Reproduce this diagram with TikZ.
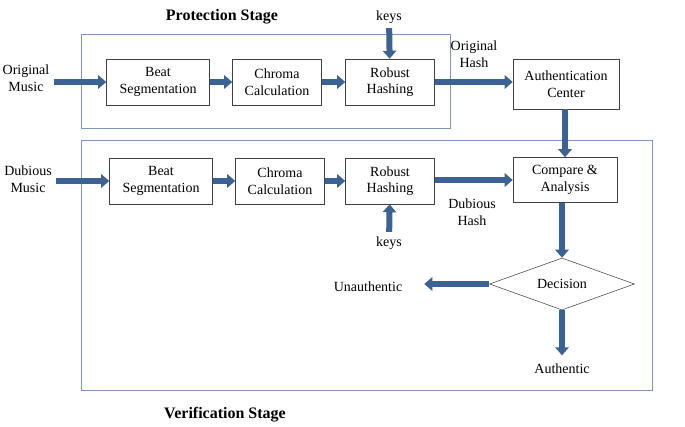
\documentclass[tikz,border=0pt]{standalone}
\usepackage{fontspec}
\setmainfont{Liberation Serif}
\usetikzlibrary{arrows.meta, positioning, shapes.geometric}
\definecolor{flowblue}{RGB}{60,98,148}
\definecolor{stageblue}{RGB}{125,150,190}

\begin{document}
\begin{tikzpicture}[x = 0.75pt, y = -0.75pt,
    every node/.style = {font=\fontsize{10.5}{12.5}\selectfont, align=center},
    block/.style = {draw=black!75, thin, minimum width=#1, minimum height=34.5pt, inner sep=2pt},
    block/.default = 66.75pt,
    flow/.style = {draw=flowblue, line width=4.5pt, -{Triangle[width=10pt, length=6pt]}},
    stage/.style = {draw=stageblue, thin},
    title/.style = {font=\fontsize{12}{14}\selectfont\bfseries}]
    \useasboundingbox (0, 0) rectangle (685, 427);
    % stage frames
    \draw[stage] (81, 34) rectangle (450, 128);
    \draw[stage] (81, 140) rectangle (652, 390);
    \node[title] (ptitle) at (222, 17) {Protection Stage};
    \node[title] (vtitle) at (225, 415) {Verification Stage};
    % protection stage
    \node (orig)   at (26, 78)   {Original\\Music};
    \node[block=77.25pt] (beat1)   at (158, 82) {Beat\\Segmentation};
    \node[block]         (chroma1) at (277, 82) {Chroma\\Calculation};
    \node[block]         (hash1)   at (390, 82) {Robust\\Hashing};
    \node (keys1)  at (389, 17)  {keys};
    \node (ohash)  at (474, 54)  {Original\\Hash};
    \node[block=79.5pt, minimum height=37.5pt] (auth) at (566, 84) {Authentication\\Center};
    % verification stage
    \node (dub)    at (28, 179)  {Dubious\\Music};
    \node[block=77.25pt] (beat2)   at (161, 181) {Beat\\Segmentation};
    \node[block]         (chroma2) at (280, 181) {Chroma\\Calculation};
    \node[block]         (hash2)   at (390, 181) {Robust\\Hashing};
    \node (keys2)  at (389, 243) {keys};
    \node (dhash)  at (472, 212) {Dubious\\Hash};
    \node[block=78pt, minimum height=33.75pt] (cmp) at (565, 180) {Compare \&\\Analysis};
    \node[draw=black!75, thin, diamond, aspect=2.8, inner sep=0pt,
          minimum width=108.75pt, minimum height=39pt] (dec) at (562, 284) {Decision};
    \node (unauth) at (368, 287) {Unauthentic};
    \node (authc)  at (562, 369) {Authentic};
    % connectors
    \draw[flow] (orig.east |- beat1) -- (beat1);
    \draw[flow] (beat1) -- (chroma1);
    \draw[flow] (chroma1) -- (hash1);
    \draw[flow] (keys1) -- (hash1);
    \draw[flow] (hash1) -- (auth.west |- hash1);
    \draw[flow] (auth.south -| cmp) -- (cmp);
    \draw[flow] (dub.east |- beat2) -- (beat2);
    \draw[flow] (beat2) -- (chroma2);
    \draw[flow] (chroma2) -- (hash2);
    \draw[flow] (keys2) -- (hash2);
    \draw[flow] (hash2.east |- cmp) -- (cmp);
    \draw[flow] (cmp.south -| dec.north) -- (dec);
    \draw[flow, shorten >=13pt] (dec) -- (unauth.east |- dec);
    \draw[flow, shorten >=3pt] (dec) -- (authc);
\end{tikzpicture}
\end{document}
